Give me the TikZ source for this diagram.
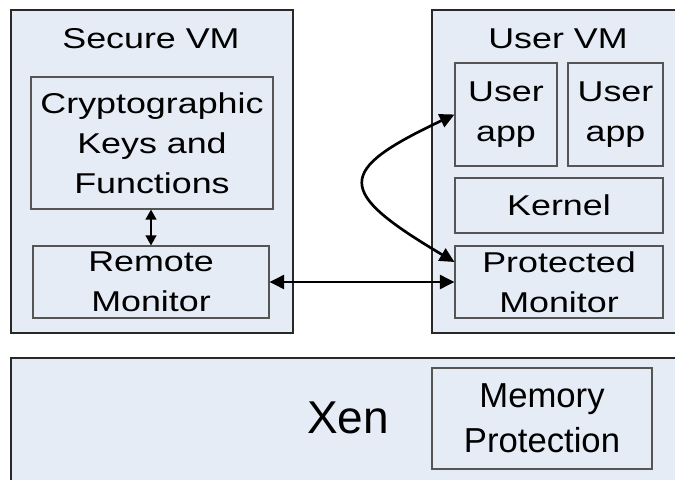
\documentclass[tikz,border=0pt]{standalone}
\usepackage{fontspec}
\usepackage{xcolor}
\usepackage{tikz}
\usetikzlibrary{arrows.meta}
\setmainfont{Liberation Sans}
\newfontfamily\widefont[FakeStretch=1.25]{Liberation Sans}
\definecolor{vmfill}{RGB}{230,236,246}
\definecolor{vmline}{RGB}{40,40,40}
\definecolor{boxline}{RGB}{85,85,85}
\def\boxfont{\widefont\fontsize{21.5}{30}\selectfont}

\begin{document}
\begin{tikzpicture}[x=0.75pt,y=-0.75pt]
    \tikzstyle{vm}=[draw=vmline,fill=vmfill,line width=0.9pt,rectangle,inner sep=0pt]
    \tikzstyle{part}=[draw=boxline,fill=vmfill,line width=0.8pt,rectangle,inner sep=0pt,align=center,font=\boxfont]
    \tikzstyle{link}=[line width=2pt,{Triangle[length=11pt,width=10.5pt]}-{Triangle[length=11pt,width=10.5pt]}]
    \useasboundingbox (0,0) rectangle (675,479);
    \clip (0,0) rectangle (675,479);
    % the two VMs and Xen
    \node[vm,minimum width=211.5pt,minimum height=242.25pt] (secure) at (152,171.5) {};
    \node[vm,minimum width=201pt,minimum height=242.25pt] (user) at (566,171.5) {};
    \node[vm,minimum width=516.75pt,minimum height=106.5pt] (xen) at (355.5,429) {};
    \node[anchor=base,font=\boxfont] (securetitle) at (151,48) {Secure VM};
    \node[anchor=base,font=\boxfont] (usertitle) at (558,48) {User VM};
    \node[anchor=base,font=\fontsize{34.5}{40}\selectfont] (xentitle) at (348,433) {Xen};
    % parts
    \node[part,minimum width=181.5pt,minimum height=99pt] (crypto) at (152,143) {Cryptographic\\Keys and\\Functions};
    \node[part,minimum width=177pt,minimum height=54pt] (remote) at (151,282) {Remote\\Monitor};
    \node[part,minimum width=76.5pt,minimum height=77.25pt] (appA) at (506,114.5) {User\\app};
    \node[part,minimum width=71.25pt,minimum height=77.25pt] (appB) at (615.5,114.5) {User\\app};
    \node[part,minimum width=156pt,minimum height=41.25pt] (kernel) at (559,205.5) {Kernel};
    \node[part,minimum width=156pt,minimum height=54pt] (protected) at (559,282) {Protected\\Monitor};
    \node[part,minimum width=165pt,minimum height=75.75pt,font=\fontsize{26}{34}\selectfont] (memory) at (542,418.5) {Memory\\Protection};
    % connectors
    \draw[line width=1.4pt,{Triangle[length=7.5pt,width=8pt]}-{Triangle[length=7.5pt,width=8pt]}]
      (crypto.south -| remote.north) -- (remote.north);
    \draw[link] (remote.east) -- (protected.west);
    \coordinate (loopstart) at ([yshift=15pt]protected.west);
    \draw[link] (loopstart) .. controls (335,191) and (335,171) .. (appA.west);
\end{tikzpicture}
\end{document}
